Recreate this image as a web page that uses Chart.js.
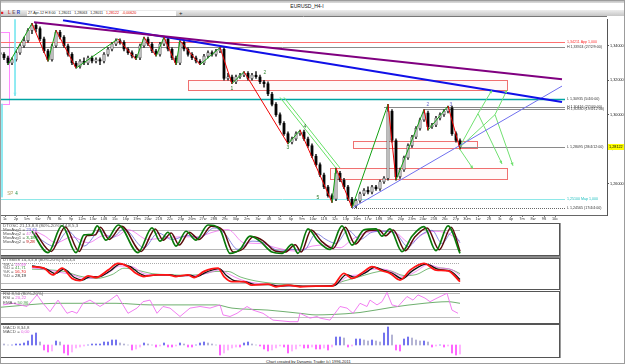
<!DOCTYPE html>
<html>
<head>
<meta charset="utf-8">
<title>EURUSD_H4-I</title>
<script src="https://cdn.jsdelivr.net/npm/chart.js@4.4.1/dist/chart.umd.min.js"></script>
<style>
html,body{margin:0;padding:0;background:#fff;}
body{width:625px;height:364px;position:relative;overflow:hidden;font-family:"Liberation Sans",Arial,sans-serif;}
canvas{position:absolute;left:0;display:block;}
.abs{position:absolute;white-space:nowrap;}
#topbar{left:0;top:0;width:625px;height:3px;background:linear-gradient(#b4b4b4,#dcdcdc);}
#title{left:0;top:2.5px;width:614px;text-align:center;font-size:5px;line-height:6px;color:#111;}
#tool{left:0;top:10px;width:625px;height:6px;background:linear-gradient(#ededed,#c6c6c6);}
#ler{left:1px;top:10px;font-size:4.5px;line-height:6px;font-weight:bold;letter-spacing:1.5px;}
#quote{left:27px;top:10.5px;width:148px;height:5px;background:#fff;font-size:3.6px;line-height:5px;color:#222;padding-left:1px;}
#plus{left:179px;top:9.5px;font-size:6px;line-height:6px;color:#222;}
#footer{left:266px;top:358.5px;font-size:4px;line-height:5px;color:#222;}
#sep1{left:0;top:256px;width:561px;height:2px;background:#8a8a8a;}
#rline{left:560px;top:223px;width:1px;height:135px;background:#9a9a9a;}
#frame{left:0;top:0;width:623px;height:362px;border:1px solid #9c9c9c;}
</style>
</head>
<body>
<div id="topbar" class="abs"></div>
<div id="title" class="abs">EURUSD_H4-I</div>
<div id="tool" class="abs"></div>
<div id="ler" class="abs"><span style="color:#e02020">&#9632;</span> <span style="color:#d04040">L</span><span style="color:#806060">E</span><span style="color:#2040c0">R</span></div>
<div id="quote" class="abs">27-Apr-12 H 8:00 &nbsp; 1,28011 &nbsp; 1,28063 &nbsp; 1,28011 &nbsp; <span style="color:#e00000">1,28122</span> &nbsp; <span style="color:#e00000">-0,00620</span></div>
<div id="plus" class="abs">+</div>

<canvas id="main" width="625" height="206" style="top:16px;width:625px;height:206px"></canvas>
<canvas id="osc" width="560" height="33" style="top:223px;width:560px;height:33px"></canvas>
<canvas id="stoch" width="560" height="32" style="top:258px;width:560px;height:32px"></canvas>
<canvas id="rsi" width="560" height="33" style="top:291px;width:560px;height:33px"></canvas>
<canvas id="macd" width="560" height="34" style="top:324px;width:560px;height:34px"></canvas>

<div id="sep1" class="abs"></div>
<div id="rline" class="abs"></div>
<div id="footer" class="abs">Chart created by Dynamic Trader (c) 1996-2011</div>
<div id="frame" class="abs"></div>

<script>
// ---------------- DATA ----------------
// H4 candles (bar index 0..115), prices EURUSD
const closes = [1.335,1.333,1.330,1.332,1.336,1.340,1.343,1.349,1.352,1.350,
1.344,1.337,1.332,1.340,1.348,1.345,1.340,1.335,1.330,1.328,
1.331,1.330,1.333,1.331,1.332,1.331,1.335,1.338,1.341,1.343,
1.342,1.338,1.336,1.334,1.333,1.340,1.344,1.341,1.337,1.335,
1.341,1.344,1.338,1.333,1.330,1.342,1.338,1.335,1.333,1.331,
1.330,1.334,1.336,1.335,1.337,1.338,1.321,1.322,1.319,1.322,
1.323,1.324,1.321,1.323,1.322,1.319,1.318,1.312,1.306,1.300,
1.295,1.289,1.284,1.286,1.289,1.290,1.286,1.282,1.276,1.271,
1.265,1.258,1.253,1.251,1.266,1.262,1.258,1.251,1.247,1.250,
1.254,1.256,1.255,1.258,1.257,1.261,1.263,1.302,1.285,1.264,
1.268,1.275,1.282,1.287,1.292,1.297,1.301,1.293,1.294,1.298,
1.300,1.302,1.304,1.289,1.285,1.2812];
const firstOpen = 1.336;
const highs = [1.337,1.336,1.334,1.333,1.337,1.341,1.345,1.350,1.353,1.353,
1.351,1.345,1.338,1.341,1.349,1.349,1.346,1.341,1.336,1.331,
1.332,1.333,1.334,1.334,1.333,1.333,1.336,1.339,1.342,1.344,
1.344,1.343,1.339,1.337,1.335,1.341,1.345,1.345,1.342,1.338,
1.342,1.345,1.345,1.339,1.334,1.343,1.343,1.339,1.336,1.334,
1.332,1.335,1.337,1.337,1.338,1.339,1.339,1.324,1.323,1.323,
1.324,1.325,1.325,1.324,1.325,1.323,1.320,1.319,1.313,1.307,
1.301,1.296,1.290,1.287,1.290,1.291,1.291,1.287,1.283,1.277,
1.272,1.266,1.259,1.254,1.269,1.267,1.263,1.259,1.252,1.251,
1.255,1.257,1.258,1.259,1.259,1.262,1.264,1.306,1.303,1.286,
1.269,1.276,1.283,1.288,1.293,1.298,1.303,1.302,1.295,1.299,
1.301,1.303,1.305,1.305,1.290,1.286];
const lows = [1.334,1.332,1.329,1.329,1.331,1.335,1.339,1.342,1.347,1.348,
1.343,1.336,1.331,1.331,1.339,1.344,1.339,1.334,1.329,1.327,
1.327,1.329,1.329,1.330,1.330,1.329,1.330,1.334,1.337,1.340,
1.341,1.337,1.335,1.333,1.332,1.332,1.339,1.340,1.336,1.334,
1.334,1.340,1.337,1.332,1.329,1.329,1.337,1.334,1.332,1.330,
1.329,1.329,1.333,1.334,1.334,1.336,1.320,1.320,1.318,1.318,
1.321,1.322,1.320,1.320,1.321,1.318,1.316,1.311,1.305,1.299,
1.294,1.288,1.283,1.283,1.285,1.288,1.285,1.281,1.275,1.270,
1.264,1.257,1.252,1.249,1.250,1.261,1.257,1.250,1.246,1.246,
1.249,1.253,1.254,1.254,1.256,1.256,1.260,1.262,1.284,1.262,
1.263,1.267,1.274,1.281,1.286,1.291,1.296,1.291,1.292,1.293,
1.297,1.299,1.301,1.288,1.284,1.280];

// swing zigzag (bar index, price)
const zzX = [2,8,12,14,19,29.5,34,36,39,41,44,45,50,55,58,61,72,75,83,84,88,97,99,106,107,112,115];
const zzY = [1.329,1.353,1.331,1.349,1.327,1.344,1.332,1.345,1.334,1.345,1.329,1.343,1.329,1.339,1.318,1.325,1.283,1.291,1.249,1.269,1.246,1.306,1.262,1.303,1.291,1.305,1.280];

// trend lines (bar index, price)
const purpleX = [8.5,140.5], purpleY = [1.3537,1.3206];
const blueX = [15.75,140.5], blueY = [1.3549,1.3074];
const thinBlueX = [88,140.5], thinBlueY = [1.2457,1.3166];
const chanAX = [70,84], chanAY = [1.3100,1.2690];
const chanBX = [71,85], chanBY = [1.3100,1.2690];
const cyanV1X = [3.75,3.75], cyanV1Y = [1.3554,1.3109];
const cyanV2X = [0.5,0.5], cyanV2Y = [1.3063,1.2520];

// projections
const proj1X = [114.75,118.25], proj1Y = [1.2806,1.2686];
const proj2X = [114.75,119.5,125.5], proj2Y = [1.2806,1.3006,1.2714];
const proj3X = [119.5,123], proj3Y = [1.3006,1.3143];
const proj4X = [114.75,123.75,128.25], proj4Y = [1.2806,1.3000,1.2703];
const proj5X = [123.75,126.75], proj5Y = [1.3000,1.3143];

// zones (bar index from/to, price top/bottom)
const zoneX0 = [47,88.25,82.5,0];
const zoneX1 = [127,119.5,127,2.5];
const zoneTop = [1.3200,1.2846,1.2691,1.3480];
const zoneBottom = [1.3143,1.2806,1.2629,1.3063];

// horizontal levels
const levelPrice = [1.34211,1.33924,1.30935,1.30416,1.30330,1.28095,1.25100,1.24565];
const levelFrom = [0,0,0,96,106,115,0,88];
const levelText = ["1,34211 App 1,000","H 1,33924 (27/2/9:00)","L 1,30935 (5/4/0:00)","H 1,30416 (27/4/0:00)","H 1,30330 (19/4/12:00)","L 1,28095 (28/4/12:00)","1,25100 Map 1,000","L 1,24565 (17/4/4:00)"];
const levelEnd = 141.25;

// wave labels
const waveText = ["1","2","3","4","5","2","3"];
const waveX = [58,66.25,72,76.25,79.5,107,112.75];
const waveY = [1.3149,1.3246,1.2806,1.2931,1.2520,1.3057,1.3057];

const priceTicks = [1.26,1.28,1.30,1.32,1.34];
const lastPrice = 1.28122;
const dateLabels = ["1c","2p","5m","6w","7S","8c","9p","12m","13w","14S","15c","16p","19m","20w","21S","22c","23p","26m","27w","28S","29c","30p","2m","3w","4S","5c","6p","9m","10w","11S","12c","13p","16m","17w","18S","19c","20p","23m","24w","25S","26c","27p","30m","1w","2S","3c","4p","7m","8w","9S","10c"];

// DTOSC
const oscFastX = [8,12,15.5,19,21,23,24.3,26.5,29.6,34.5,38,40,42,44,46.5,49,52,55,57.5,60,62.5,65,68,70.5,73,74.5,77,79.5,82.5,85.5,88,91,94,95.5,97.5,100.5,103,106,109,112,115];
const oscFast = [75,10,92,10,64,66,91,48,94,10,85,45,72,30,75,48,94,80,8,20,60,45,12,8,35,8,82,45,20,91,33,79,82,60,82,13,60,89,16,91,8];
const oscSlowX = [8.8,12.8,16.3,19.8,21.8,23.8,25.1,27.3,30.4,35.3,38.8,40.8,42.8,44.8,47.3,49.8,52.8,55.8,58.3,60.8,63.3,65.8,68.8,71.3,73.8,75.3,77.8,80.3,83.3,86.3,88.8,91.8,94.8,96.3,98.3,101.3,103.8,106.8,109.8,112.8,115];
const oscSlow = [72,14,88,14,62,64,87,50,90,14,82,48,70,33,72,50,90,77,12,22,58,46,15,12,34,12,79,46,23,87,36,76,79,61,79,16,59,85,19,87,14];
const ma1X = [9,13.5,17,21,25,28,31,36,39.5,43,47,50,53.5,56,59.5,63,66,70,73,76,79,81.5,84,87,90,93,96,99,102,105,108,110.5,113,115];
const ma1 = [60,30,75,30,75,55,82,25,70,50,62,55,85,70,20,45,40,15,20,18,68,50,38,78,50,72,75,68,28,62,78,38,72,40];
const ma2X = [8,11,14,18,22,26,29,32,37,41,45,49,54,57,61,65,69,74,78,81,85,88,92,96,99,102.5,106,109,112.5,115];
const ma2 = [80,62,40,58,40,62,60,80,50,55,58,58,75,80,40,38,25,15,30,33,25,50,72,75,70,40,68,75,65,45];

// DTStoch
const stKX = [8,11,13.2,15.5,18,20,22,24,27,29.5,32,34,36,39,42,44,47,48.5,51,54.5,56,58,61,63,67,69,72,75,79,83,86,88,91,93,95.5,97.5,100,102.5,106,109,112,115];
const stK = [70,65,44,65,33,26,41,36,59,80,70,49,39,44,44,39,44,36,55,65,39,23,23,12,15,7,12,7,9,9,49,33,55,70,57,49,28,59,80,59,57,23];
const stDX = [8,11.5,13.8,16,18.6,20.6,22.6,24.6,27.6,30,32.6,34.6,36.6,39.6,42.6,44.6,47.6,49,51.6,54.8,56.6,58.6,61.6,63.6,67.6,69.6,72.6,75.6,79.6,83.6,86.6,88.6,91.6,93.6,96,98,100.6,103,106.6,109.6,112.6,115];
const stD = [72,63,48,62,36,28,39,38,57,78,70,51,41,44,44,40,43,38,53,64,42,26,22,14,14,9,11,8,9,11,45,37,53,68,58,50,32,56,78,61,56,30];
const stMX = [8,12,15,18,21,24,27,30,33,36,40,44,48,52,55,57,60,63,67,71,76,80,84,87,90,93,96,99,101,104,107,110,113,115];
const stM = [66,60,52,45,33,36,50,72,70,48,43,42,41,50,60,48,30,20,14,10,9,9,14,40,45,62,62,48,38,55,76,66,60,42];
const stGX = [8,12,16,20,24,28,31,34,38,42,46,50,54,57,60,64,68,72,77,82,86,89,93,97,101,104,108,111,113,115];
const stG = [62,60,55,40,33,45,65,60,48,45,43,45,55,55,38,25,18,13,10,10,25,35,50,58,42,45,66,65,60,48];

// RSI
const rsiX = [0.75,3.25,6.75,9.25,10.75,12.5,14.5,16.75,18,19.25,20.75,22.5,25,27.5,29.25,30.75,32,34.25,35.75,37.5,39.25,40.75,42.5,45,47.5,50,52.5,55,55.75,57.5,59.25,61.75,63.25,65.75,68.25,72.5,74.5,75,77.5,79.25,80,82.5,85,86.75,88.25,90,91.75,92.5,94.25,95.5,96.75,98,99.5,101.75,103.25,104.5,106.25,107.5,109.25,111.75,113,114.5];
const rsi = [51,55,47,76,55,34,63,30,35,30,55,63,47,63,76,51,30,43,59,63,30,47,43,22,43,47,43,51,26,22,30,47,38,30,13,9,9,30,18,22,18,13,47,43,30,55,47,63,51,59,82,51,47,72,63,76,68,59,68,80,38,30];
const emaX = [0,14,29,37.5,54,58,67,75,79,83,90,98,106,112,115];
const ema = [45,55,55,51,51,43,38,30,26,27,32,45,55,59,55];

// MACD histogram (pips)
const macdHist = [1,0.5,0,0,0.5,0.5,1,2,5,6,
1.5,-2.5,-3.5,-3,2,1.5,-4,-5,-3.5,-1.5,
-1,-0.5,0,0.5,0.5,0.5,1.5,1.5,2.5,2.5,
1,0.5,0,-2.5,-2,-1,1,0.5,0,-1,
-0.5,1,-1,-1,-0.5,1,0.5,-1,-1,0,
1,1.5,1,0.5,0,-5,-4,-2.5,-1.5,-1,
-1,1,1.5,0.5,0,-0.5,-2,-3,-2.5,-1.5,
-0.5,-1,-4,-3,-2,-0.5,-1.5,-1.5,-1,-2,
-2,-1.5,-2.5,-1,4,4,3.5,-1,-0.5,3,
3,2.5,2,2.5,2,1.5,6,9,5,-2.5,
-3,3,4,3.5,2.5,2,2,1.5,-1,-0.5,
0,-1,-0.5,-4,-5,-4.5];

// ---------------- STYLES ----------------
const FONT = '"Liberation Sans", Arial, sans-serif';
Chart.defaults.font.family = FONT;
const zoneStyle = [
  {fill:'rgba(255,220,220,0.18)', stroke:'#f07070'},
  {fill:'rgba(255,220,220,0.18)', stroke:'#f07070'},
  {fill:'rgba(255,220,220,0.18)', stroke:'#f07070'},
  {fill:'rgba(255,200,255,0.10)', stroke:'#ff88ff'}
];
const levelStyle = [
  {color:'#ff7070', width:1, text:'#ff3030'},
  {color:'#8a8a8a', width:1, text:'#333'},
  {color:'#00a4a4', width:1.6, text:'#333'},
  {color:'#8a8a8a', width:1, text:'#333'},
  {color:'#8a8a8a', width:1, text:'#333'},
  {color:'#8a8a8a', width:1, text:'#333'},
  {color:'#8ee8e8', width:1, text:'#20c0c0'},
  {color:'#666', width:1, dash:[1,1], text:'#333'}
];
const waveColor = ['#1e6e1e','#3a8a3a','#2a7a2a','#2a7a2a','#2a7a2a','#6a6ac8','#6a6ac8'];

const xy = (xs, ys) => xs.map((x,i)=>({x, y: ys[i]}));
const opens = [firstOpen].concat(closes.slice(0,-1));
const idx = closes.map((_,i)=>i);

function lineDS(xs, ys, color, width, extra) {
  return Object.assign({type:'line', data: xy(xs, ys), borderColor: color, borderWidth: width,
    pointRadius: 0, fill: false, tension: 0, order: 1}, extra || {});
}

// ---------------- MAIN CHART ----------------
const mainDeco = {
  id: 'mainDeco',
  beforeDatasetsDraw(chart) {
    const {ctx, chartArea: ca} = chart; const xs = chart.scales.x, ys = chart.scales.y;
    ctx.save();
    ctx.beginPath(); ctx.rect(ca.left, ca.top, ca.right - ca.left, ca.bottom - ca.top); ctx.clip();
    for (let k = 0; k < zoneX0.length; k++) {
      const a = Math.round(xs.getPixelForValue(zoneX0[k])), b = Math.round(xs.getPixelForValue(zoneX1[k]));
      const t = Math.round(ys.getPixelForValue(zoneTop[k])), u = Math.round(ys.getPixelForValue(zoneBottom[k]));
      const st = zoneStyle[k];
      ctx.fillStyle = st.fill; ctx.fillRect(a, t, b - a, u - t);
      ctx.strokeStyle = st.stroke; ctx.lineWidth = 1; ctx.strokeRect(a + 0.5, t + 0.5, b - a - 1, u - t);
    }
    for (let k = 0; k < levelPrice.length; k++) {
      const st = levelStyle[k];
      const py = Math.round(ys.getPixelForValue(levelPrice[k])) + 0.5;
      ctx.strokeStyle = st.color; ctx.lineWidth = st.width; ctx.setLineDash(st.dash || []);
      ctx.beginPath(); ctx.moveTo(xs.getPixelForValue(levelFrom[k]), py); ctx.lineTo(xs.getPixelForValue(levelEnd), py); ctx.stroke();
    }
    ctx.setLineDash([]);
    ctx.restore();
  },
  afterDatasetsDraw(chart) {
    const {ctx, chartArea: ca} = chart; const xs = chart.scales.x, ys = chart.scales.y;
    ctx.save();
    // arrow heads
    chart.data.datasets.forEach((ds, i) => {
      if (!ds.arrowHead) return;
      const pts = chart.getDatasetMeta(i).data; const n = pts.length;
      const p = pts[n-1], q = pts[n-2];
      const ang = Math.atan2(p.y - q.y, p.x - q.x);
      ctx.fillStyle = ds.borderColor; ctx.beginPath();
      ctx.moveTo(p.x, p.y);
      ctx.lineTo(p.x - 3.5*Math.cos(ang - 0.45), p.y - 3.5*Math.sin(ang - 0.45));
      ctx.lineTo(p.x - 3.5*Math.cos(ang + 0.45), p.y - 3.5*Math.sin(ang + 0.45));
      ctx.closePath(); ctx.fill();
    });
    // level labels
    ctx.font = '3.6px ' + FONT; ctx.textBaseline = 'middle'; ctx.textAlign = 'left';
    const lx = xs.getPixelForValue(levelEnd) + 2;
    for (let k = 0; k < levelPrice.length; k++) {
      ctx.fillStyle = levelStyle[k].text;
      ctx.fillText(levelText[k], lx, ys.getPixelForValue(levelPrice[k]));
    }
    // wave labels
    ctx.font = '5px ' + FONT; ctx.textAlign = 'center';
    waveText.forEach((t, k) => { ctx.fillStyle = waveColor[k]; ctx.fillText(t, xs.getPixelForValue(waveX[k]), ys.getPixelForValue(waveY[k])); });
    // SP 4
    ctx.textAlign = 'left'; ctx.font = '4.5px ' + FONT;
    const spx = xs.getPixelForValue(1.8), spy = ys.getPixelForValue(1.2543);
    ctx.fillStyle = '#b0a060'; ctx.fillText('SP', spx, spy);
    ctx.fillStyle = '#108a40'; ctx.fillText('4', spx + 8, spy);
    // frame lines
    ctx.strokeStyle = '#777'; ctx.lineWidth = 1;
    ctx.beginPath(); ctx.moveTo(0.5, 0); ctx.lineTo(0.5, ca.bottom); ctx.stroke();
    ctx.beginPath(); ctx.moveTo(0, 0.5); ctx.lineTo(ca.right, 0.5); ctx.stroke();
    ctx.restore();
  },
  afterDraw(chart) {
    const {ctx, chartArea: ca} = chart; const ys = chart.scales.y;
    const py = ys.getPixelForValue(lastPrice);
    ctx.save();
    ctx.fillStyle = '#ffff00'; ctx.fillRect(ca.right + 1, py - 3, 17, 6);
    ctx.fillStyle = '#000'; ctx.font = '3.8px ' + FONT; ctx.textBaseline = 'middle'; ctx.textAlign = 'left';
    ctx.fillText(lastPrice.toFixed(5).replace('.', ','), ca.right + 2, py);
    ctx.restore();
  }
};

new Chart(document.getElementById('main'), {
  type: 'bar',
  data: { datasets: [
    lineDS(zzX, zzY, '#0a9a0a', 1, {segment: {borderColor: c => c.p1.parsed.y > c.p0.parsed.y ? '#12a012' : '#f00000'}}),
    lineDS(purpleX, purpleY, '#800080', 2),
    lineDS(blueX, blueY, '#1010e8', 2),
    lineDS(thinBlueX, thinBlueY, '#7070ee', 1),
    lineDS(chanAX, chanAY, '#66e066', 1),
    lineDS(chanBX, chanBY, '#66e066', 1),
    lineDS(cyanV1X, cyanV1Y, '#80e8f0', 1, {arrowHead: true}),
    lineDS(cyanV2X, cyanV2Y, '#80e8f0', 1),
    lineDS(proj1X, proj1Y, '#70e070', 1, {arrowHead: true}),
    lineDS(proj2X, proj2Y, '#70e070', 1, {arrowHead: true}),
    lineDS(proj3X, proj3Y, '#70e070', 1, {arrowHead: true}),
    lineDS(proj4X, proj4Y, '#70e070', 1, {arrowHead: true}),
    lineDS(proj5X, proj5Y, '#70e070', 1, {arrowHead: true}),
    {type: 'bar', data: idx.map(i => ({x: i, y: [opens[i], closes[i]]})),
      backgroundColor: c => closes[c.dataIndex] >= opens[c.dataIndex] ? '#bdbdbd' : '#050505',
      borderColor: c => closes[c.dataIndex] >= opens[c.dataIndex] ? '#444' : '#050505',
      borderWidth: 0.6, borderSkipped: false, barThickness: 2.6, minBarLength: 1, grouped: false, order: 10},
    {type: 'bar', data: idx.map(i => ({x: i, y: [lows[i], highs[i]]})),
      backgroundColor: '#222', barThickness: 0.9, grouped: false, order: 11}
  ]},
  options: {
    responsive: false, animation: false, events: [],
    layout: {padding: 0},
    plugins: {legend: {display: false}, tooltip: {enabled: false}},
    scales: {
      x: {type: 'linear', min: 0, max: 151.75, offset: false, position: 'bottom',
        afterBuildTicks: s => { s.ticks = dateLabels.map((l, k) => ({value: 1.25 + 2.75 * k})); },
        afterFit: s => { s.height = 7; },
        ticks: {autoSkip: false, maxRotation: 0, minRotation: 0, padding: 0, color: '#333', font: {size: 3.8},
          callback: (v, i) => dateLabels[i]},
        grid: {drawOnChartArea: false, tickLength: 2, color: '#777', offset: false},
        border: {color: '#666'}},
      y: {position: 'right', min: 1.2417, max: 1.3554,
        afterBuildTicks: s => { s.ticks = priceTicks.map(v => ({value: v})); },
        afterFit: s => { s.width = 18; },
        ticks: {padding: 1, color: '#222', font: {size: 3.8}, callback: v => v.toFixed(5).replace('.', ',')},
        grid: {drawOnChartArea: false, tickLength: 2, color: '#555'},
        border: {color: '#555'}}
    }
  },
  plugins: [mainDeco]
});

// ---------------- INDICATOR PANELS ----------------
function drawTextLines(ctx, lines, ys) {
  ctx.font = '4.4px ' + FONT; ctx.textBaseline = 'middle'; ctx.textAlign = 'left';
  lines.forEach((segs, k) => {
    let cx = 3;
    segs.forEach(([t, c]) => { ctx.fillStyle = c; ctx.fillText(t, cx, ys[k]); cx += ctx.measureText(t).width; });
  });
}
function deco(refs, lines, ys) {
  return {
    id: 'deco',
    beforeDatasetsDraw(chart) {
      const {ctx, chartArea: ca} = chart; const yS = chart.scales.y;
      ctx.save();
      refs.forEach(r => {
        const py = Math.round(yS.getPixelForValue(r.v)) + 0.5;
        ctx.strokeStyle = r.color; ctx.lineWidth = 1; ctx.setLineDash(r.dash || []);
        ctx.beginPath(); ctx.moveTo(ca.left, py); ctx.lineTo(chart.scales.x.getPixelForValue(115), py); ctx.stroke();
      });
      ctx.restore();
    },
    afterDatasetsDraw(chart) {
      const {ctx} = chart;
      ctx.save();
      drawTextLines(ctx, lines, ys);
      ctx.strokeStyle = '#555'; ctx.lineWidth = 1;
      ctx.strokeRect(0.5, 0.5, chart.width - 1, chart.height - 1);
      ctx.restore();
    }
  };
}
function panel(id, type, yMin, yMax, datasets, plugin) {
  return new Chart(document.getElementById(id), {
    type: type,
    data: {datasets},
    options: {
      responsive: false, animation: false, events: [],
      layout: {padding: 0},
      plugins: {legend: {display: false}, tooltip: {enabled: false}},
      scales: {x: {type: 'linear', min: 0, max: 140, display: false, offset: false},
               y: {min: yMin, max: yMax, display: false}}
    },
    plugins: [plugin]
  });
}
const smooth = (xs, ys, color, w) => ({type: 'line', data: xy(xs, ys), borderColor: color, borderWidth: w,
  pointRadius: 0, cubicInterpolationMode: 'monotone', fill: false});

panel('osc', 'line', 0, 100, [
  smooth(oscFastX, oscFast, '#0a7a0a', 1.7),
  smooth(oscSlowX, oscSlow, '#5a0a0a', 1.5),
  smooth(ma1X, ma1, '#6c6cd8', 0.8),
  smooth(ma2X, ma2, '#f070f0', 0.8)
], deco([{v: 80, color: '#b8b8b8'}, {v: 20, color: '#b8b8b8'}],
  [[['DTOSC 21,13,8,8 (80%-20%) 14,8,5,3', '#555']],
   [['MovAvg1 = ', '#555'], ['23,70', '#5a5ad0']],
   [['MovAvg2 = ', '#555'], ['47,11', '#e060e0']],
   [['MovAvg1 = ', '#555'], ['3,18', '#0a7a0a']],
   [['MovAvg2 = ', '#555'], ['9,28', '#c00000']]],
  [2.8, 7, 11, 15, 19]));

panel('stoch', 'line', -3.1, 96.9, [
  smooth(stKX, stK, '#ff1414', 1.8),
  smooth(stDX, stD, '#111', 1.3),
  smooth(stMX, stM, '#f070f0', 0.8),
  smooth(stGX, stG, '#58a858', 0.8)
], deco([{v: 80, color: '#aaa', dash: [1, 1]}, {v: 20, color: '#b8b8b8'}],
  [[['DTStoch 14,3,5,8 (80%-20%) 8,5,3,4', '#555']],
   [['%K = ', '#555'], ['19,99', '#e060e0']],
   [['%D = ', '#555'], ['41,71', '#4a9a4a']],
   [['%K = ', '#555'], ['16,70', '#e01010']],
   [['%D = ', '#555'], ['28,19', '#222']]],
  [2.2, 6.3, 10.2, 14.1, 18]));

panel('rsi', 'line', 3.25, 85.75, [
  {type: 'line', data: xy(rsiX, rsi), borderColor: '#f070f0', borderWidth: 0.9, pointRadius: 0, tension: 0, fill: false},
  smooth(emaX, ema, '#4a9a4a', 0.8)
], deco([{v: 80, color: '#c0c0c0'}, {v: 20, color: '#c0c0c0'}],
  [[['RSI 8,50 (80%-20%)', '#555']],
   [['RSI = ', '#555'], ['20,22', '#e060e0']],
   [['EMA = ', '#555'], ['50,96', '#4a9a4a']]],
  [2.5, 7.2, 11.9]));

panel('macd', 'bar', -6.5, 10.5, [
  {type: 'bar', data: idx.map(i => ({x: i, y: macdHist[i]})), barThickness: 1.4, grouped: false,
   backgroundColor: c => {
     const v = macdHist[c.dataIndex], p = c.dataIndex > 0 ? macdHist[c.dataIndex - 1] : 0;
     if (v >= 0) return v >= p ? '#7474ee' : '#b4b4d4';
     return v <= p ? '#ff66ff' : '#ffb4ff';
   }}
], deco([], [[['MACD 8,34,8', '#555']], [['MACD = ', '#555'], ['0,00', '#e060e0']]], [3.7, 7.8]));
</script>
</body>
</html>
